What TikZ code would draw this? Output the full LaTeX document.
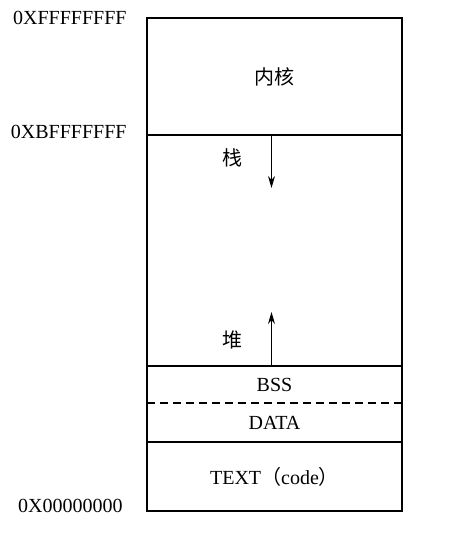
\documentclass[tikz,border=0pt]{standalone}
\usepackage{fontspec}
\setmainfont{Liberation Serif}
\newfontfamily\cjk{Noto Sans CJK SC}
\usepackage{tikz}
\usetikzlibrary{arrows.meta,positioning}

\begin{document}
\begin{tikzpicture}[node distance=0pt,
  seg/.style={draw,line width=0.7pt,outer sep=0pt,minimum width=127.5pt},
  addr/.style={inner sep=0pt,anchor=east},
  growarrow/.style={-{Stealth[length=6pt,width=3.5pt]},line width=0.5pt}]
\useasboundingbox (0,0) rectangle (231pt,-269pt);
\node[seg,minimum height=58.5pt,anchor=north west] (kernel) at (73.5pt,-9pt) {\cjk 内核};
\node[seg,minimum height=115.5pt,below=of kernel] (free) {};
\node[seg,draw=none,minimum height=18.5pt,below=of free] (bss) {BSS};
\node[seg,draw=none,minimum height=19.5pt,below=of bss] (data) {DATA};
\node[seg,minimum height=34.5pt,below=of data] (code) {TEXT{\cjk （}code{\cjk ）}};
\draw[line width=0.7pt] (bss.north west) rectangle (data.south east);
\draw[dash pattern=on 4pt off 2.5pt,line width=0.7pt] (bss.south west)--(bss.south east);
% stack and heap
\node[right=37.5pt of free.north west,yshift=-11.5pt,inner sep=0pt] (stack) {\cjk 栈};
\node[right=37.5pt of free.south west,yshift=13pt,inner sep=0pt] (heap) {\cjk 堆};
\coordinate[below=26.5pt of free.north,xshift=-1.5pt] (stacktip);
\coordinate[above=27pt of free.south,xshift=-1.5pt] (heaptip);
\draw[growarrow] (free.north-|stacktip)--(stacktip);
\draw[growarrow] (free.south-|heaptip)--(heaptip);
% addresses
\node[addr,left=10pt of kernel.north west] (top) {0XFFFFFFFF};
\node[addr,left=10pt of kernel.south west,yshift=1.5pt] (kbase) {0XBFFFFFFF};
\node[addr,left=12pt of code.south west,yshift=2.5pt] (zero) {0X00000000};
\end{tikzpicture}
\end{document}
